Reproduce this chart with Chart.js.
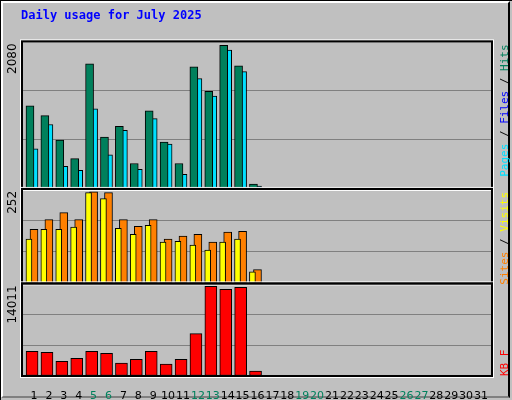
<!DOCTYPE html>
<html>
<head>
<script src="https://cdn.jsdelivr.net/npm/chart.js@4"></script>
<style>
body { margin: 0; background: #fff; }
#wrap { position: relative; width: 512px; height: 400px; background: #C0C0C0; box-sizing: border-box; border-top: 1px solid #000; border-left: 1px solid #000; }
#frame { position: absolute; left: 0; top: 0; width: 509px; height: 397px; border-right: 2px solid #000; border-bottom: 2px solid #808080; box-sizing: border-box; border-left: 2px solid #fff; border-top: 2px solid #fff; }
canvas { position: absolute; left: 0; top: 0; }
</style>
</head>
<body>
<div id="wrap"><div id="frame"></div><canvas id="c" width="512" height="400"></canvas></div>
<script>
const days = Array.from({length: 31}, (_, i) => i + 1);
const weekend = [5, 6, 12, 13, 19, 20, 26, 27];
const hits  = [1171, 1033, 689, 427, 1763, 730, 881, 358, 1102, 661, 358, 1721, 1377, 2024, 1735, 69];
const pages = [565, 909, 317, 261, 1129, 482, 826, 275, 992, 633, 207, 1556, 1308, 1956, 1653, 41];
const files = [207, 261, 165, 179, 193, 248, 165, 220, 317, 165, 207, 482, 1294, 1253, 1281, 28];
const visits = [118, 144, 144, 150, 242, 226, 147, 131, 155, 110, 112, 102, 89, 110, 118, 31];
const sites  = [144, 170, 189, 170, 244, 242, 170, 152, 170, 118, 126, 131, 110, 137, 139, 37];
const kbytes = [3725, 3576, 2235, 2682, 3725, 3427, 1937, 2533, 3725, 1788, 2533, 6407, 13559, 13112, 13410, 745];
const maxHits = 2080, maxSites = 252, maxKB = 14011;

const pts = (arr, off) => arr.map((v, i) => ({x: i + 1 + off, y: v}));
const bar = (label, arr, off, color, w, axis) => ({
    label, data: pts(arr, off), backgroundColor: color, borderColor: '#000',
    borderWidth: 1, barThickness: w, yAxisID: axis, borderSkipped: false, grouped: false
});

const yAxis = (max, weight) => ({
    type: 'linear', min: 0, max, stack: 'p', stackWeight: weight, offset: false,
    ticks: { display: false },
    border: { display: false },
    grid: { color: '#808080', lineWidth: 1, drawTicks: false },
    afterBuildTicks: s => { s.ticks = [0, 1, 2, 3].map(k => ({value: max * k / 3})); },
    afterFit: s => { s.width = 0; }
});

const decor = {
    id: 'decor',
    afterDraw(chart) {
        const ctx = chart.ctx, a = chart.chartArea;
        const ys = ['y1', 'y2', 'y3'].map(id => chart.scales[id]);
        ctx.save();
        ys.forEach(s => {
            ctx.strokeStyle = '#fff'; ctx.lineWidth = 1;
            ctx.strokeRect(a.left - 1.5, s.top - 1.5, a.right - a.left + 3, s.bottom - s.top + 3);
            ctx.strokeStyle = '#000'; ctx.lineWidth = 2;
            ctx.strokeRect(a.left, s.top, a.right - a.left, s.bottom - s.top);
        });
        ctx.font = '12px "DejaVu Sans"';
        ctx.fillStyle = '#000';
        [[ys[0], maxHits], [ys[1], maxSites], [ys[2], maxKB]].forEach(([s, m]) => {
            ctx.save();
            ctx.translate(18, s.top + 2);
            ctx.rotate(-Math.PI / 2);
            ctx.textAlign = 'right'; ctx.textBaseline = 'bottom';
            ctx.fillText(String(m), 0, 0);
            ctx.restore();
        });
        ctx.font = '11px "DejaVu Sans Mono"';
        const legend = (s, parts) => {
            ctx.save();
            ctx.translate(504, s.top + 3);
            ctx.rotate(-Math.PI / 2);
            ctx.textBaseline = 'middle';
            let x = -ctx.measureText(parts.map(p => p[0]).join('')).width;
            parts.forEach(([t, c]) => {
                ctx.fillStyle = c; ctx.fillText(t, x, 0);
                x += ctx.measureText(t).width;
            });
            ctx.restore();
        };
        legend(ys[0], [['Pages', '#00E0FF'], [' / ', '#000'], ['Files', '#0000FF'], [' / ', '#000'], ['Hits', '#00805C']]);
        legend(ys[1], [['Sites', '#FF8000'], [' / ', '#000'], ['Visits', '#FFFF00']]);
        ctx.save();
        ctx.translate(504, ys[2].bottom);
        ctx.rotate(-Math.PI / 2);
        ctx.textBaseline = 'middle';
        ctx.fillStyle = '#FF0000';
        ctx.fillText('KB F', 0, 0);
        ctx.restore();
        ctx.restore();
    }
};

new Chart(document.getElementById('c'), {
    type: 'bar',
    data: {
        datasets: [
            bar('Hits', hits, -0.27, '#00805C', 8, 'y1'),
            bar('Files', files, -0.34, '#0000FF', 3, 'y1'),
            bar('Pages', pages, 0, '#00E0FF', 8, 'y1'),
            bar('Visits', visits, -0.34, '#FFFF00', 6, 'y2'),
            bar('Sites', sites, 0, '#FF8000', 8, 'y2'),
            bar('KBytes', kbytes, -0.13, '#FF0000', 12, 'y3')
        ]
    },
    options: {
        responsive: false,
        animation: false,
        layout: { padding: { left: 21, right: 21, top: 26, bottom: 0 } },
        plugins: {
            legend: { display: false },
            tooltip: { enabled: false },
            title: {
                display: true, text: 'Daily usage for July 2025', align: 'start',
                color: '#0000FF', font: { family: 'DejaVu Sans Mono', size: 12, weight: 'bold' },
                padding: 0, position: 'top'
            }
        },
        scales: {
            x: {
                type: 'linear', min: 0.195, max: 31.74, offset: false,
                grid: { display: false },
                border: { display: false },
                afterBuildTicks: s => { s.ticks = days.map(d => ({value: d})); },
                afterFit: s => { s.height = 25; },
                ticks: {
                    padding: 6, maxRotation: 0, autoSkip: false,
                    font: { family: 'DejaVu Sans', size: 11 },
                    color: c => weekend.includes(c.tick.value) ? '#00805C' : '#000',
                    callback: v => String(v)
                }
            },
            y3: yAxis(maxKB, 96),
            y2: yAxis(maxSites, 98),
            y1: yAxis(maxHits, 153)
        }
    },
    plugins: [decor, {
        id: 'titlePos',
        beforeDraw(chart) { chart.titleBlock.left = 20; chart.titleBlock.top = 8; }
    }]
});
</script>
</body>
</html>
